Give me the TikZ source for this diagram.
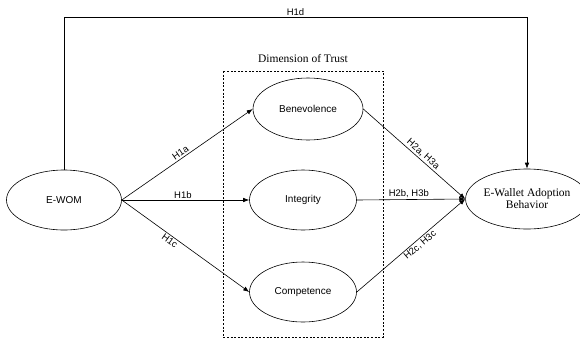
\documentclass[tikz,border=0pt]{standalone}
\usepackage{fontspec}
\setmainfont{Liberation Serif}
\setsansfont{Liberation Sans}
\usetikzlibrary{positioning, arrows.meta, shapes.geometric}

\begin{document}
\begin{tikzpicture}[x=1pt, y=-1pt,
        costrutto/.style={ellipse, draw, line width=0.6pt, inner sep=0pt,
            minimum width=107pt, minimum height=60pt,
            font=\sffamily\fontsize{10}{12}\selectfont},
        freccia/.style={line width=0.6pt, -{Latex[length=6pt, width=4.5pt]}},
        ipotesi/.style={sloped, inner sep=1.5pt, font=\sffamily\fontsize{9.5}{11}\selectfont}]
        \useasboundingbox (0,0) rectangle (580,338);

        % Riquadro tratteggiato: dimensioni della fiducia
        \draw[line width=0.6pt, dash pattern=on 2pt off 1.6pt] (223,71) rectangle (383,337);
        \node (titolo) at (303,59) {\fontsize{11.5}{13}\selectfont Dimension of Trust};

        % Costrutti
        \node[costrutto, minimum width=115pt] (ewom) at (64,200) {E-WOM};
        \node[costrutto, minimum width=110pt, minimum height=62pt] (ben) at (308,109) {Benevolence};
        \node[costrutto] (int) at (303,200) {Integrity};
        \node[costrutto] (comp) at (303,292) {Competence};
        \node[costrutto, minimum width=103pt, align=center,
              font=\rmfamily\fontsize{11.5}{12}\selectfont] (ewallet) at (527,199)
              {E-Wallet Adoption\\Behavior};

        % Percorso diretto H1d
        \coordinate (alto sx) at (64,17);
        \coordinate (alto dx) at (527,17);
        \draw[freccia] (ewom.north) -- (alto sx) -- node[ipotesi, above] {H1d} (alto dx) -- (ewallet.north);

        % Ipotesi H1
        \draw[freccia] (ewom.east) -- node[ipotesi, above, pos=0.47] {H1a} (ben.west);
        \draw[freccia] (ewom.east) -- node[ipotesi, above, pos=0.48] {H1b} (int.west);
        \draw[freccia] (ewom.east) -- node[ipotesi, below, pos=0.4] {H1c} (comp.west);

        % Ipotesi H2 e H3
        \draw[freccia] (ben.east) -- node[ipotesi, above, pos=0.55] {H2a, H3a} (ewallet.west);
        \draw[freccia] (int.east) -- node[ipotesi, above, pos=0.48] {H2b, H3b} (ewallet.west);
        \draw[freccia] (comp.east) -- node[ipotesi, below, pos=0.55] {H2c, H3c} (ewallet.west);
    \end{tikzpicture}
\end{document}
